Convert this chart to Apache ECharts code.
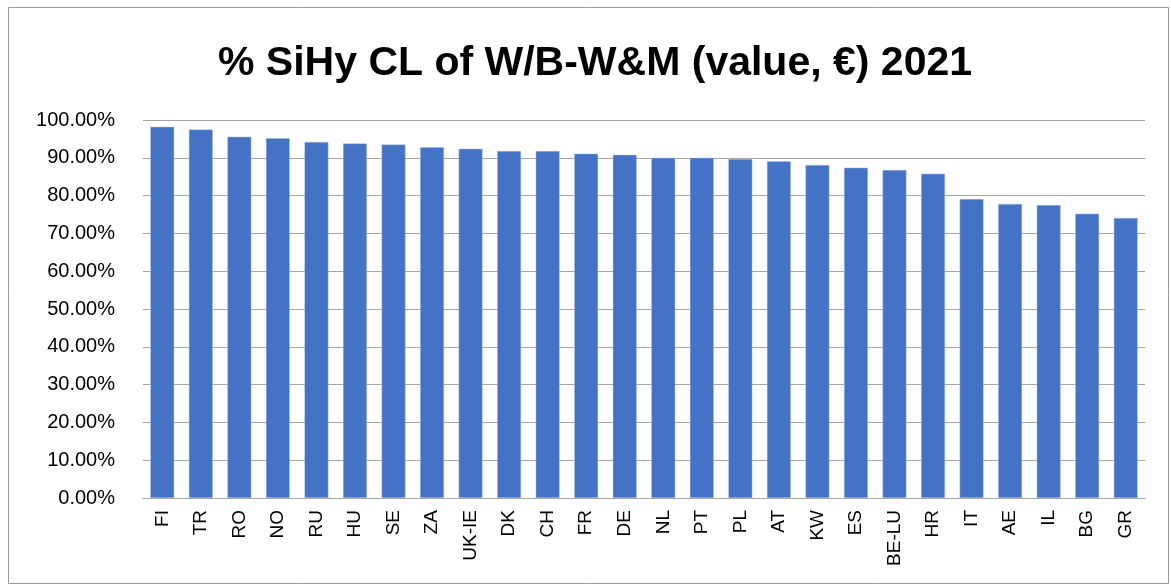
<!DOCTYPE html>
<html>
<head>
<meta charset="utf-8">
<script src="https://cdn.jsdelivr.net/npm/echarts@6/dist/echarts.min.js"></script>
<style>
html, body { margin: 0; padding: 0; background: #fff; }
#chart { width: 1171px; height: 587px; }
</style>
</head>
<body>
<div id="chart"></div>
<script>
var countries = ['FI', 'TR', 'RO', 'NO', 'RU', 'HU', 'SE', 'ZA', 'UK-IE', 'DK', 'CH', 'FR', 'DE',
    'NL', 'PT', 'PL', 'AT', 'KW', 'ES', 'BE-LU', 'HR', 'IT', 'AE', 'IL', 'BG', 'GR'];
var shares = [98.2, 97.5, 95.6, 95.2, 94.2, 93.8, 93.5, 92.8, 92.4, 91.8, 91.8, 91.1, 90.8,
    90.0, 90.0, 89.7, 89.1, 88.1, 87.4, 86.8, 85.8, 79.1, 77.8, 77.5, 75.2, 74.1];

var chart = echarts.init(document.getElementById('chart'));
var option = {
    animation: false,
    title: {
        text: '% SiHy CL of W/B-W&M (value, €) 2021',
        left: 213,
        top: 38,
        textStyle: { fontFamily: 'Liberation Sans', fontWeight: 'bold', fontSize: 41, color: '#000' }
    },
    graphic: [{
        type: 'rect',
        shape: { x: 8.5, y: 7.5, width: 1160, height: 576 },
        style: { fill: 'none', stroke: '#9a9a9a', lineWidth: 1 },
        silent: true
    }],
    grid: { left: 143, right: 26, top: 120, bottom: 89 },
    xAxis: {
        type: 'category',
        data: countries,
        axisTick: { show: false },
        axisLine: { lineStyle: { color: '#a6a6a6' } },
        axisLabel: { rotate: 90, fontFamily: 'Liberation Sans', fontSize: 19, color: '#000', margin: 12, interval: 0 }
    },
    yAxis: {
        type: 'value',
        min: 0,
        max: 100,
        interval: 10,
        axisLine: { show: false },
        axisTick: { show: false },
        splitLine: { lineStyle: { color: '#a6a6a6' } },
        axisLabel: {
            fontFamily: 'Liberation Sans', fontSize: 20, color: '#000', margin: 28,
            formatter: function (v) { return v.toFixed(2) + '%'; }
        }
    },
    series: [{
        type: 'bar',
        data: shares,
        barWidth: '62%',
        itemStyle: { color: '#4472C4', borderColor: '#aac0e6', borderWidth: 0.5 }
    }]
};
chart.setOption(option);
</script>
</body>
</html>
